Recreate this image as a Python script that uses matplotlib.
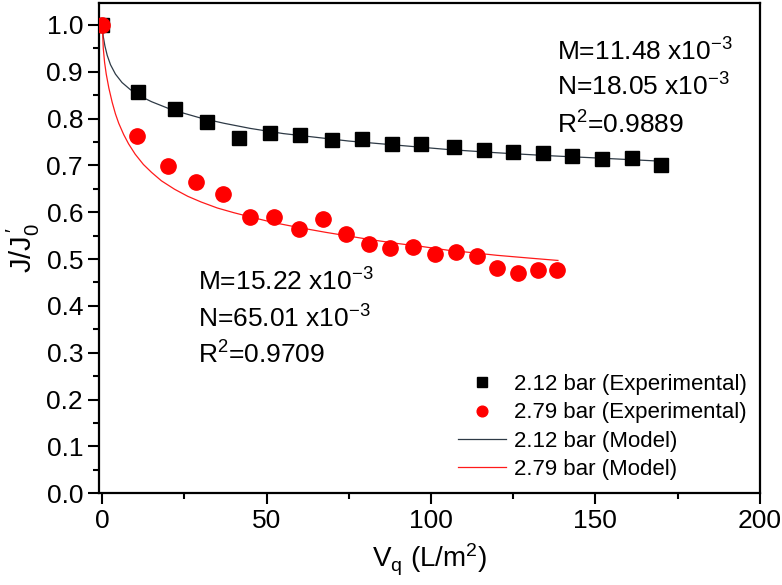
import matplotlib
matplotlib.use("Agg")
import matplotlib.pyplot as plt
from matplotlib.ticker import MultipleLocator

plt.rcParams["font.family"] = ["Liberation Sans", "DejaVu Sans"]
plt.rcParams["mathtext.default"] = "regular"

# --- Data ---
x_212 = [0, 11, 22, 32, 41.5, 51, 60, 70, 79, 88, 97, 107, 116, 125, 134, 143, 152, 161, 170]
y_212 = [1.0, 0.856, 0.82, 0.792, 0.758, 0.769, 0.765, 0.755, 0.756, 0.745, 0.745,
         0.74, 0.733, 0.728, 0.727, 0.72, 0.713, 0.716, 0.70]

x_279 = [0, 10.6, 19.9, 28.4, 36.7, 44.8, 52.3, 59.7, 67, 74, 81.1, 87.6, 94.4,
         101.2, 107.5, 113.9, 120.2, 126.5, 132.5, 138.4]
y_279 = [1.0, 0.762, 0.699, 0.665, 0.638, 0.590, 0.590, 0.565, 0.586, 0.554, 0.533,
         0.524, 0.526, 0.511, 0.515, 0.506, 0.481, 0.470, 0.476, 0.476]

# model curves
xm_212 = [0, 0.3, 0.8, 1.5, 2.5, 4, 6, 8.5, 11.5, 15, 20, 25, 30, 37, 45, 55, 65,
          75, 90, 105, 120, 135, 150, 170]
ym_212 = [1.0, 0.975, 0.955, 0.935, 0.915, 0.895, 0.877, 0.862, 0.848, 0.836, 0.822,
          0.811, 0.801, 0.790, 0.779, 0.768, 0.760, 0.752, 0.743, 0.734, 0.727,
          0.721, 0.716, 0.709]

xm_279 = [0, 0.3, 0.7, 1.2, 2, 3, 4, 5, 6.5, 8, 10, 12.5, 15, 18, 22, 26, 30, 35,
          40, 45, 52, 60, 68, 75, 82, 90, 97, 105, 112, 120, 130, 138.6]
ym_279 = [1.0, 0.95, 0.92, 0.895, 0.865, 0.835, 0.81, 0.79, 0.766, 0.746, 0.724,
          0.702, 0.685, 0.667, 0.649, 0.634, 0.622, 0.609, 0.599, 0.590, 0.578,
          0.567, 0.557, 0.549, 0.541, 0.533, 0.527, 0.519, 0.514, 0.508, 0.502, 0.497]

# --- Plot ---
fig = plt.figure(figsize=(7.82, 5.85), dpi=100)
ax = fig.add_axes([0.1266, 0.157, 0.845, 0.838])

ax.plot(xm_212, ym_212, color="#2e3a46", lw=0.9, label="2.12 bar (Model)", zorder=2)
ax.plot(xm_279, ym_279, color="#ff1a1a", lw=0.9, label="2.79 bar (Model)", zorder=2)
ax.plot(x_212, y_212, "s", color="black", ms=10, label="2.12 bar (Experimental)", zorder=3)
ax.plot(x_279, y_279, "o", color="#ff0000", ms=11, label="2.79 bar (Experimental)", zorder=4)

ax.set_xlim(-1, 200)
ax.set_ylim(0, 1.047)
ax.xaxis.set_major_locator(MultipleLocator(50))
ax.xaxis.set_minor_locator(MultipleLocator(25))
ax.yaxis.set_major_locator(MultipleLocator(0.1))
ax.yaxis.set_minor_locator(MultipleLocator(0.05))
ax.tick_params(which="major", direction="out", length=8, width=1.5, labelsize=19)
ax.tick_params(which="minor", direction="out", length=4, width=1.5)
for s in ax.spines.values():
    s.set_linewidth(1.6)

ax.set_xlabel(r"V$_q$ (L/m$^2$)", fontsize=20, labelpad=6)
ax.set_ylabel(r"J/J$_0^{\,\prime}$", fontsize=21, labelpad=3)

# fit parameter annotations
ann = dict(transform=ax.transAxes, fontsize=19, va="center")
ax.text(0.693, 0.90, r"M=11.48 x10$^{-3}$", **ann)
ax.text(0.693, 0.829, r"N=18.05 x10$^{-3}$", **ann)
ax.text(0.693, 0.751, r"R$^2$=0.9889", **ann)
ax.text(0.15, 0.431, r"M=15.22 x10$^{-3}$", **ann)
ax.text(0.15, 0.355, r"N=65.01 x10$^{-3}$", **ann)
ax.text(0.15, 0.282, r"R$^2$=0.9709", **ann)

h, l = ax.get_legend_handles_labels()
order = [2, 3, 0, 1]
ax.legend([h[i] for i in order], [l[i] for i in order], loc="lower right",
          bbox_to_anchor=(1.01, -0.014), frameon=False, fontsize=16,
          handlelength=2.15, handletextpad=0.36, labelspacing=0.33, markerscale=0.7)

fig.savefig("out.png", dpi=100)
